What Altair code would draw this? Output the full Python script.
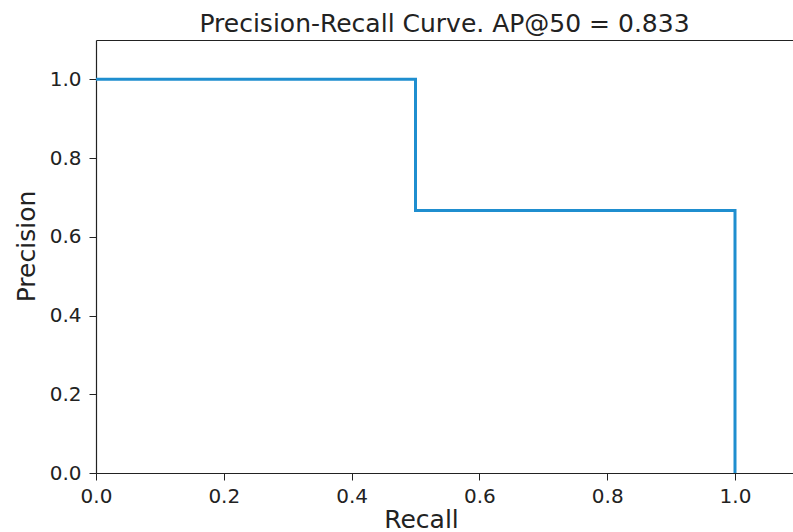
import altair as alt
import pandas as pd

recall = [0.0, 0.5, 0.5, 1.0, 1.0]
precision = [1.0, 1.0, 0.667, 0.667, 0.0]
order = [0, 1, 2, 3, 4]
x_ticks = [0.0, 0.2, 0.4, 0.6, 0.8, 1.0]
y_ticks = [0.0, 0.2, 0.4, 0.6, 0.8, 1.0]

df = pd.DataFrame({"recall": recall, "precision": precision, "order": order})

FONT = "DejaVu Sans"
W, H = 697, 433

x_scale = alt.Scale(domain=[0, 697 / 639], nice=False, zero=False)
y_scale = alt.Scale(domain=[0, 1.1], nice=False, zero=False)

base = alt.Chart(df)

curve = base.mark_line(
    color="#1f8ecf", strokeWidth=3, clip=True
).encode(
    x=alt.X("recall:Q", scale=x_scale,
            axis=alt.Axis(orient="bottom", values=x_ticks, format=".1f",
                          title="Recall",
                          grid=False, tickSize=7, tickColor="#222",
                          domainColor="#222", domainWidth=1.2,
                          labelFontSize=20,
                          labelPadding=6, labelColor="#222",
                          labelFlush=False,
                          titleFontSize=25, titleFontWeight="normal",
                          titleColor="#222", titleX=325, titleY=54,
                          titleBaseline="alphabetic", titleAlign="center")),
    y=alt.Y("precision:Q", scale=y_scale,
            axis=alt.Axis(orient="left", values=y_ticks, format=".1f",
                          title="Precision",
                          grid=False, tickSize=7, tickColor="#222",
                          domainColor="#222", domainWidth=1.2,
                          labelFontSize=20,
                          labelPadding=8, labelColor="#222",
                          labelFlush=False,
                          titleFontSize=25, titleFontWeight="normal",
                          titleColor="#222", titleX=-62, titleY=206,
                          titleAngle=270, titleBaseline="alphabetic",
                          titleAlign="center")),
    order="order:O",
)

top_frame = base.mark_line(opacity=0).encode(
    x=alt.X("recall:Q", scale=x_scale,
            axis=alt.Axis(orient="top", labels=False, ticks=False,
                          grid=False, title=None, domainColor="#222",
                          domainWidth=1.2)),
    y=alt.Y("precision:Q", scale=y_scale),
    order="order:O",
)

chart = alt.layer(curve, top_frame).resolve_axis(
    x="independent"
).properties(
    width=W, height=H,
    title=alt.TitleParams("Precision-Recall Curve. AP@50 = 0.833",
                          fontSize=25, fontWeight="normal", font=FONT,
                          color="#222", anchor="middle", offset=3),
    padding={"left": 96, "top": 40, "right": 0, "bottom": 59},
    autosize=alt.AutoSizeParams(type="none"),
).configure(
    font=FONT,
    background="white",
).configure_view(
    strokeOpacity=0,
)

chart.save("out.html", embed_options={"renderer": "svg", "actions": False})
